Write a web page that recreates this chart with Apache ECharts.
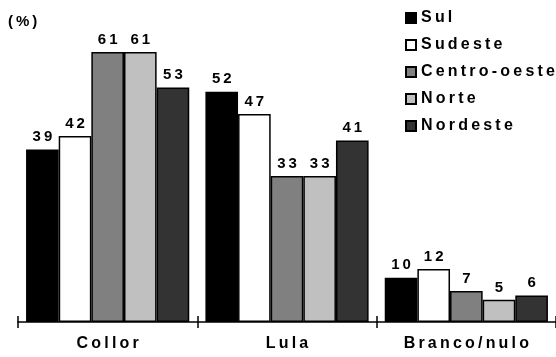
<!DOCTYPE html>
<html>
<head>
<meta charset="utf-8">
<script src="https://cdn.jsdelivr.net/npm/echarts@6/dist/echarts.min.js"></script>
<style>html,body{margin:0;padding:0;background:#fff}#c{width:556px;height:357px}</style>
</head>
<body>
<div id="c"></div>
<script>
const categories = ['Collor', 'Lula', 'Branco/nulo'];
const regions = ['Sul', 'Sudeste', 'Centro-oeste', 'Norte', 'Nordeste'];
const sul = [39, 52, 10];
const sudeste = [42, 47, 12];
const centroOeste = [61, 33, 7];
const norte = [61, 33, 5];
const nordeste = [53, 41, 6];
const colors = ['#000000', '#ffffff', '#808080', '#c0c0c0', '#333333'];

const seriesValues = [sul, sudeste, centroOeste, norte, nordeste];
const spaced = (s, sp) => String(s).split('').join(sp);
const FONT = '"Liberation Sans", Arial, sans-serif';

const chart = echarts.init(document.getElementById('c'), null, {renderer: 'canvas'});
chart.setOption({
  animation: false,
  backgroundColor: '#ffffff',
  title: {
    text: spaced('(%)', '\u2009'), left: 3, top: 9,
    textStyle: {fontFamily: FONT, fontWeight: 'bold', fontSize: 15, color: '#000'}
  },
  legend: {
    orient: 'vertical', left: 400, top: 5,
    itemWidth: 10, itemHeight: 10, itemGap: 11,
    icon: 'rect',
    formatter: name => spaced(name, '\u2009'),
    textStyle: {fontFamily: FONT, fontWeight: 'bold', fontSize: 16, color: '#000', lineHeight: 16},
    data: regions
  },
  grid: {left: 18, top: 52, width: 543, bottom: 35, containLabel: false},
  xAxis: [{
    type: 'category', data: categories,
    axisLine: {lineStyle: {color: '#000', width: 1.5}},
    axisTick: {show: true, length: 6, lineStyle: {color: '#000', width: 1.5}},
    axisLabel: {
      margin: 14, formatter: v => spaced(v, '\u2009'),
      fontFamily: FONT, fontWeight: 'bold', fontSize: 16, color: '#000'
    }
  }, {
    type: 'category', data: categories, position: 'bottom',
    axisLine: {show: false},
    axisTick: {show: true, inside: true, length: 6, lineStyle: {color: '#000', width: 1.5}},
    axisLabel: {show: false}
  }],
  yAxis: {type: 'value', min: 0, max: 61, show: false, splitLine: {show: false}},
  series: regions.map((name, i) => ({
    name, type: 'bar', data: seriesValues[i],
    barGap: 0, barCategoryGap: '9%',
    itemStyle: {color: colors[i], borderColor: '#000', borderWidth: 1.5},
    label: {
      show: true, position: 'top', distance: 5,
      formatter: p => spaced(p.value, '\u2009'),
      fontFamily: FONT, fontWeight: 'bold', fontSize: 15, color: '#000'
    }
  }))
});
</script>
</body>
</html>
